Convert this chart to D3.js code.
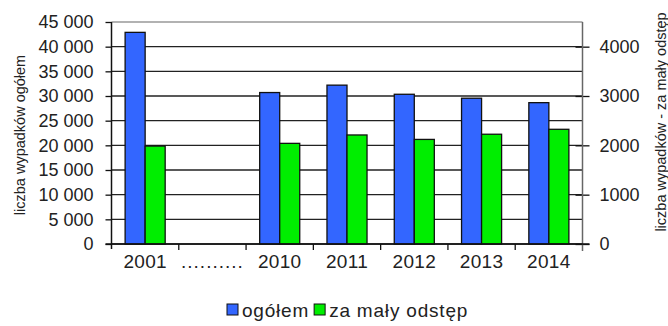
<!DOCTYPE html>
<html>
<head>
<meta charset="utf-8">
<script src="https://cdn.jsdelivr.net/npm/d3@7"></script>
<style>
  body { margin: 0; background: #fff; }
  text { font-family: "Liberation Sans", Arial, sans-serif; fill: #222; }
</style>
</head>
<body>
<div id="chart"></div>
<script>
const WIDTH = 668;
const HEIGHT = 326;

// data
const categories = ["2001", "..........", "2010", "2011", "2012", "2013", "2014"];
const ogolem = [42900, null, 30700, 32200, 30350, 29550, 28650];
const zaMalyOdstep = [1985, null, 2040, 2210, 2120, 2225, 2325];
const leftTicks = [0, 5000, 10000, 15000, 20000, 25000, 30000, 35000, 40000, 45000];
const rightTicks = [0, 1000, 2000, 3000, 4000];
const seriesNames = ["ogółem", "za mały odstęp"];
const colors = ["#3366ff", "#00ee00"];

const plotLeft = 111.5, plotRight = 582.5, plotTop = 22, plotBottom = 244;

let svg = d3.select("#chart")
    .append("svg")
    .attr("width", WIDTH)
    .attr("height", HEIGHT);

let x = d3.scaleBand()
    .domain(categories)
    .range([plotLeft, plotRight])
    .paddingInner(0)
    .paddingOuter(0);
let inner = d3.scaleBand()
    .domain([0, 1])
    .range([0, x.bandwidth()])
    .paddingOuter(0.68)
    .paddingInner(0);
let yLeft = d3.scaleLinear().domain([0, 45000]).range([plotBottom, plotTop]);
let yRight = d3.scaleLinear().domain([0, 4500]).range([plotBottom, plotTop]);

// gridlines
svg.append("g")
    .selectAll("line")
    .data(leftTicks)
    .enter()
    .append("line")
    .attr("x1", plotLeft)
    .attr("x2", plotRight)
    .attr("y1", d => yLeft(d))
    .attr("y2", d => yLeft(d))
    .style("stroke", d => d === 45000 ? "#999" : "#222")
    .style("stroke-width", 1.4);

// bars
let rows = categories.map((c, i) => ({ c, vals: [ogolem[i], zaMalyOdstep[i]] }));
let groups = svg.append("g")
    .selectAll("g")
    .data(rows)
    .enter()
    .append("g")
    .attr("transform", d => `translate(${x(d.c)},0)`);
groups.selectAll("rect")
    .data(d => d.vals.map((v, k) => ({ v, k })).filter(e => e.v !== null))
    .enter()
    .append("rect")
    .attr("x", e => inner(e.k))
    .attr("width", inner.bandwidth())
    .attr("y", e => e.k === 0 ? yLeft(e.v) : yRight(e.v))
    .attr("height", e => plotBottom - (e.k === 0 ? yLeft(e.v) : yRight(e.v)))
    .style("fill", e => colors[e.k])
    .style("stroke", "#111")
    .style("stroke-width", 1.3);

// left axis
let leftAxis = d3.axisLeft(yLeft)
    .tickValues(leftTicks)
    .tickSize(6)
    .tickPadding(12)
    .tickFormat(d => d3.format(",")(d).replace(/,/g, " "));
let gl = svg.append("g").attr("transform", `translate(${plotLeft},0)`).call(leftAxis);
gl.select(".domain").remove();
gl.append("line").attr("x1", 0).attr("x2", 0).attr("y1", plotTop).attr("y2", plotBottom + 5)
    .style("stroke", "#111").style("stroke-width", 1.5);
gl.selectAll(".tick line").style("stroke", "#111").style("stroke-width", 1.3);
gl.selectAll(".tick text").style("font-size", "18px").attr("fill", "#222");

// right axis
let rightAxis = d3.axisRight(yRight)
    .tickValues(rightTicks)
    .tickSizeInner(7)
    .tickPadding(10)
    .tickFormat(d3.format("d"));
let gr = svg.append("g").attr("transform", `translate(${plotRight},0)`).call(rightAxis);
gr.select(".domain").remove();
gr.append("line").attr("x1", 0).attr("x2", 0).attr("y1", plotTop).attr("y2", plotBottom + 7)
    .style("stroke", "#666").style("stroke-width", 1.5);
gr.selectAll(".tick line").attr("x1", -7).style("stroke", "#111").style("stroke-width", 1.3);
gr.selectAll(".tick text").style("font-size", "18px").attr("fill", "#222");

// bottom axis
let bottomAxis = d3.axisBottom(x).tickSize(0).tickPadding(24);
let gb = svg.append("g").attr("transform", `translate(0,${plotBottom})`).call(bottomAxis);
gb.select(".domain").remove();
gb.append("line").attr("x1", plotLeft - 6).attr("x2", plotRight + 7).attr("y1", 0).attr("y2", 0)
    .style("stroke", "#111").style("stroke-width", 1.5);
gb.selectAll(".sep")
    .data(categories.slice(1))
    .enter()
    .append("line")
    .attr("x1", d => x(d))
    .attr("x2", d => x(d))
    .attr("y1", 0)
    .attr("y2", 6)
    .style("stroke", "#111")
    .style("stroke-width", 1.3);
gb.selectAll(".tick text")
    .style("font-size", "19px")
    .attr("dy", 0)
    .attr("fill", "#222")
    .style("letter-spacing", d => d.startsWith(".") ? "1px" : "0.3px");

// axis titles
svg.append("text")
    .attr("transform", `translate(25,${(plotTop + plotBottom) / 2 + 2}) rotate(-90)`)
    .attr("text-anchor", "middle")
    .style("font-size", "14.5px")
    .text("liczba wypadków ogółem");
svg.append("text")
    .attr("transform", `translate(666,122) rotate(-90)`)
    .attr("text-anchor", "middle")
    .style("font-size", "14.5px")
    .text("liczba wypadków - za mały odstęp");

// legend
let legend = svg.append("g").attr("transform", "translate(227,304)");
let lx = 0;
seriesNames.forEach((name, i) => {
    legend.append("rect")
        .attr("x", lx).attr("y", 0).attr("width", 11).attr("height", 11)
        .style("fill", colors[i]).style("stroke", "#111").style("stroke-width", 1);
    let t = legend.append("text")
        .attr("x", lx + 15).attr("y", 12.5)
        .style("font-size", "19px")
        .style("letter-spacing", "0.8px")
        .text(name);
    lx += 15 + t.node().getComputedTextLength() + 5;
});
</script>
</body>
</html>
